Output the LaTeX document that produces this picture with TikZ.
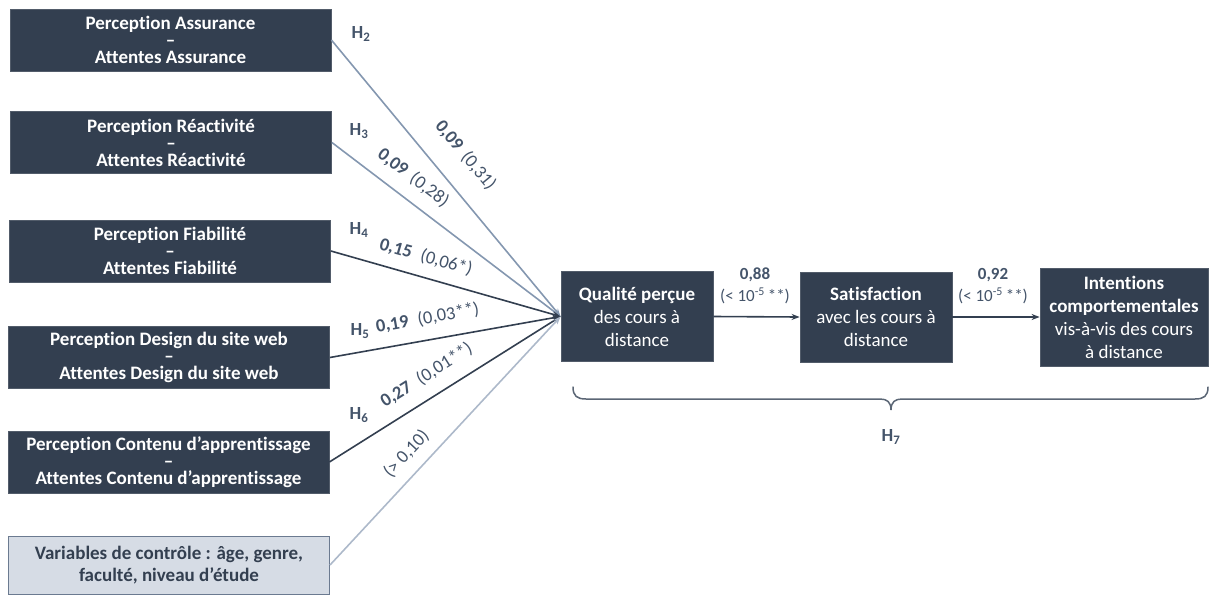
\documentclass[tikz,border=0pt]{standalone}
\usepackage{fontspec}
\setmainfont[Ligatures=NoCommon]{Carlito}
\usetikzlibrary{arrows.meta}
\definecolor{boxdark}{HTML}{333F50}
\definecolor{boxlight}{HTML}{D6DCE5}
\definecolor{boxline}{HTML}{6B7A90}
\definecolor{bracec}{HTML}{5B6675}
\definecolor{lineA}{HTML}{8497B0}
\definecolor{lineC}{HTML}{ADB9CA}
\definecolor{lbl}{HTML}{44546A}
\begin{document}
\begin{tikzpicture}[x=1pt,y=-1pt,
  darkbox/.style={fill=boxdark, draw=boxdark!85!white, line width=0.8pt, text=white,
    font=\bfseries\fontsize{19}{17}\selectfont, align=center,
    minimum width=321pt, minimum height=62pt, inner sep=0pt},
  ctrlbox/.style={fill=boxlight, draw=boxline, line width=1pt, text=boxdark,
    font=\bfseries\fontsize{19}{22}\selectfont, align=center,
    minimum width=321pt, minimum height=58pt, inner sep=0pt},
  rbox/.style={fill=boxdark, draw=boxdark!85!white, line width=0.8pt, text=white,
    font=\fontsize{19}{23}\selectfont, align=center, inner sep=0pt},
  conn/.style={line width=1.6pt, -{Stealth[length=8pt,width=6pt]}},
  lab/.style={sloped, text=lbl, inner sep=0pt, font=\fontsize{18.5}{20}\selectfont},
  hlab/.style={text=lbl, inner sep=0pt, font=\bfseries\fontsize{18.5}{20}\selectfont},
  alab/.style={text=lbl, inner sep=0pt, align=center, font=\fontsize{17}{22}\selectfont},
]
\useasboundingbox (0,0) rectangle (1211,595);

% left boxes
\node[darkbox] (L1) at (170.5,40)  {Perception Assurance\\–\\Attentes Assurance};
\node[darkbox] (L2) at (171,142.5) {Perception Réactivité\\–\\Attentes Réactivité};
\node[darkbox] (L3) at (170,251)   {Perception Fiabilité\\–\\Attentes Fiabilité};
\node[darkbox] (L4) at (169,357.5) {Perception Design du site web\\–\\Attentes Design du site web};
\node[darkbox] (L5) at (168.5,462) {Perception Contenu d’apprentissage\\–\\Attentes Contenu d’apprentissage};
\node[ctrlbox] (L6) at (169,565)   {Variables de contrôle : âge, genre,\\faculté, niveau d’étude};

% right boxes
\node[rbox, minimum width=152pt, minimum height=90pt] (Q) at (637,316.5)
  {\textbf{Qualité perçue}\\des cours à\\distance};
\node[rbox, minimum width=152pt, minimum height=90pt] (S) at (876,317)
  {\textbf{Satisfaction}\\avec les cours à\\distance};
\node[rbox, minimum width=168pt, minimum height=98pt] (I) at (1124,317)
  {\textbf{Intentions}\\\textbf{comportementales}\\vis-à-vis des cours\\à distance};

% connectors to Q
\draw[conn, lineA] (L1.east) -- node[lab, pos=0.486, above=21pt]{\textbf{0,09}\hspace{0.4em}(0,31)} (Q.west);
\draw[conn, lineA] (L2.east) -- node[lab, pos=0.30, above=12.5pt]{\textbf{0,09}\hspace{0.4em}(0,28)} (Q.west);
\draw[conn, boxdark] (L3.east) -- node[lab, pos=0.39, above=11.5pt]{\textbf{0,15}\hspace{0.5em}(0,06*)} (Q.west);
\draw[conn, boxdark] (L4.east) -- node[lab, pos=0.44, above=13pt]{\textbf{0,19}\hspace{0.5em}(0,03**)} (Q.west);
\draw[conn, boxdark] (L5.east) -- node[lab, pos=0.47, above=13pt]{\textbf{0,27}\hspace{0.5em}(0,01**)} (Q.west);
\draw[conn, lineC] (L6.east) -- node[lab, pos=0.394, above=11pt]{(> 0,10)} (Q.west);

% hypothesis labels
\node[hlab] (H2) at (361,34)  {H\textsubscript{2}};
\node[hlab] (H3) at (359,131) {H\textsubscript{3}};
\node[hlab] (H4) at (359,230) {H\textsubscript{4}};
\node[hlab] (H5) at (360,331) {H\textsubscript{5}};
\node[hlab] (H6) at (359,415) {H\textsubscript{6}};

% chain arrows
\draw[line width=1.6pt, boxdark, -{Stealth[length=8pt,width=6pt]}] (Q.east) -- (S.west);
\draw[line width=1.6pt, boxdark, -{Stealth[length=8pt,width=6pt]}] (S.east) -- (I.west);
\node[alab] (A1) at (755,286) {\textbf{0,88}\\(< 10\textsuperscript{-5}\,**)};
\node[alab] (A2) at (993,286) {\textbf{0,92}\\(< 10\textsuperscript{-5}\,**)};

% brace
\coordinate (B1) at (573,387);
\coordinate (B2) at (1208,387);
\coordinate (BT) at (891,410);
\draw[bracec, line width=1.5pt, line cap=round]
  (B1) .. controls (573,396) and (577,399) .. (586,399) -- (880,399)
  .. controls (887,399) and (891,402) .. (BT)
  .. controls (891,402) and (895,399) .. (902,399) -- (1195,399)
  .. controls (1204,399) and (1208,396) .. (B2);
\node[hlab] (H7) at (891,437) {H\textsubscript{7}};
\end{tikzpicture}
\end{document}
